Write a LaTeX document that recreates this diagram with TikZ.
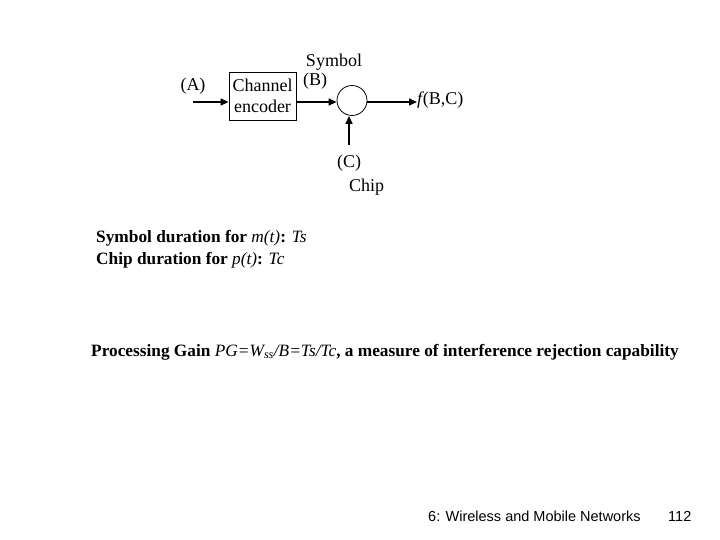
\documentclass[tikz,border=0pt]{standalone}
\usepackage{fontspec}
\setmainfont{Liberation Serif}
\newfontfamily\footfont{Liberation Sans}
\usetikzlibrary{arrows.meta}

\tikzset{
	sig/.style={line width=1.5pt,-{Triangle[length=8pt,width=7pt]}},
	lbl/.style={font=\fontsize{18}{21}\selectfont,inner sep=0pt},
	txt/.style={font=\fontsize{17.3}{21}\selectfont\bfseries,inner sep=0pt,anchor=west},
	foot/.style={font=\fontsize{14.5}{16}\selectfont\footfont,inner sep=0pt,anchor=base west}
}

\begin{document}
\begin{tikzpicture}[x=1pt,y=-1pt]
		\useasboundingbox (0,0) rectangle (720,540);
		\node[draw,line width=.8pt,minimum width=67pt,minimum height=48pt,inner sep=0pt,align=center,lbl] (enc) at (262.5,96){Channel\\encoder};
		\node[draw,line width=.8pt,circle,minimum size=30pt,inner sep=0pt] (mix) at (352,100.5){};
		\coordinate (in) at (193,102);
		\coordinate (chip) at (349,145);
		\node[lbl] (a) at (193,86){(A)};
		\node[lbl] (sym) at (334,62){Symbol};
		\node[lbl] (b) at (315,81){(B)};
		\node[lbl,anchor=west] (out) at (417,100){\textit{f}\kern-1.5pt(B,C)};
		\node[lbl] (c) at (349,163){(C)};
		\node[lbl] (chiplbl) at (366.5,187){Chip};
		\draw[sig] (in) -- (enc.west |- in);
		\draw[sig] (enc.east |- in) -- (mix.west |- in);
		\draw[sig] (mix.east |- in) -- (out.west |- in);
		\draw[sig] (chip) -- (chip |- mix.south);
		\node[txt] (ts) at (96,238){Symbol duration for \textnormal{\textit{m(t)}}: \textnormal{\textit{Ts}}};
		\node[txt] (tc) at (96,260){Chip duration for \textnormal{\textit{p(t)}}: \textnormal{\textit{Tc}}};
		\node[txt] (pg) at (91,352){Processing Gain \textnormal{\textit{PG=W\textsubscript{ss}/B=Ts/Tc}}, a measure of interference rejection capability};
		\node[foot] (course) at (428,521){6: Wireless and Mobile Networks};
		\node[foot] (page) at (668,521){112};
\end{tikzpicture}
\end{document}
